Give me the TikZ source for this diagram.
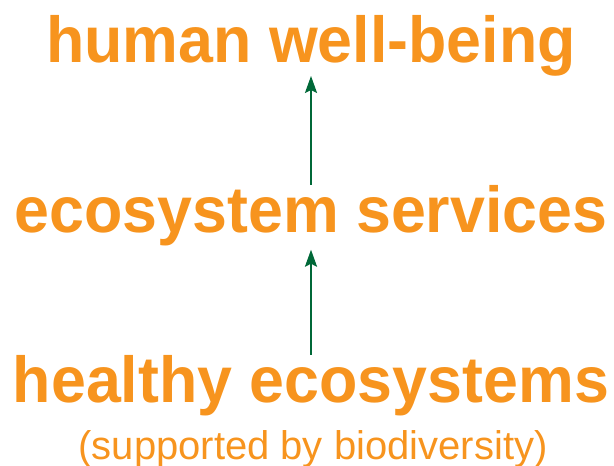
\documentclass[tikz,border=0pt]{standalone}
\usepackage{fontspec}
\setmainfont{Liberation Sans}
\newfontfamily\headfont[FakeStretch=0.965]{Liberation Sans}
\usetikzlibrary{positioning,arrows.meta}
\definecolor{eduorange}{HTML}{F7941E}
\definecolor{edugreen}{HTML}{006838}
\begin{document}
\begin{tikzpicture}[x=1pt, y=-1pt,
	head/.style={inner sep=0pt, anchor=base, text=eduorange, font=\headfont\bfseries\fontsize{65}{65}\selectfont},
	sub/.style={inner sep=0pt, anchor=base, text=eduorange, font=\fontsize{40}{40}\selectfont},
	uparrow/.style={edugreen, line width=2.2pt, -{Stealth[length=17pt, width=12pt, inset=3pt]}}]
			\useasboundingbox (0,0) rectangle (614,466);
			\node[head] (wellbeing) at (311,62) {human well-being};
			\node[head] (services) at (311,232) {ecosystem services};
			\node[head] (healthy) at (311,402) {healthy ecosystems};
			\node[sub] (support) at (313,459) {(supported by biodiversity)};
			\draw[uparrow] (services.north) -- (wellbeing.south);
			\draw[uparrow, shorten >=4pt] (healthy.north) -- (services.south);
		\end{tikzpicture}
\end{document}
